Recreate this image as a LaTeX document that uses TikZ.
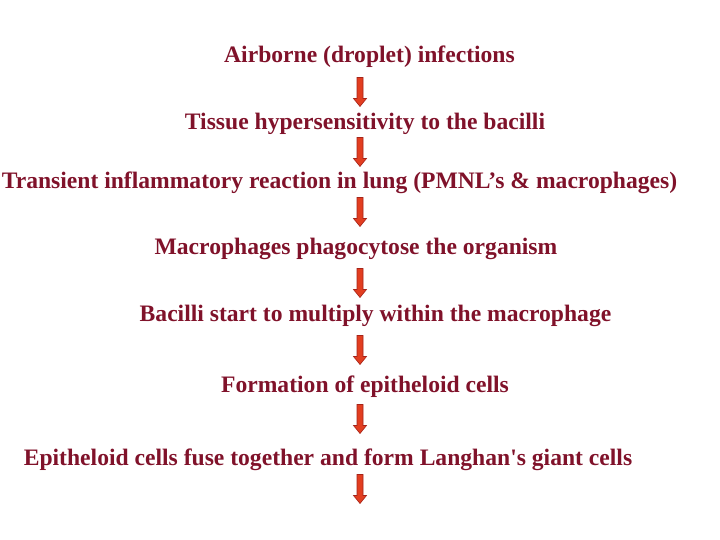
\documentclass[tikz,border=0pt]{standalone}
\usepackage{fontspec}
\setmainfont{Liberation Serif}
\definecolor{txtred}{RGB}{128,18,42}
\definecolor{arrfill}{RGB}{226,62,32}
\definecolor{arrline}{RGB}{165,35,25}
\tikzset{
  lbl/.style={text=txtred, font=\fontsize{23.6}{28}\selectfont\bfseries, inner sep=0pt, anchor=center},
  downarr/.pic={\filldraw[fill=arrfill, draw=arrline, line width=0.6pt]
     (-3,-14.5) -- (3,-14.5) -- (3,6.5) -- (6.5,6.5) -- (0,14.5) -- (-6.5,6.5) -- (-3,6.5) -- cycle;}
}
\begin{document}
\begin{tikzpicture}[x=1pt,y=-1pt]
\useasboundingbox (0,0) rectangle (720,540);
\node[lbl] (t1) at (369.5,57) {Airborne (droplet) infections};
\node[lbl] (t2) at (365,124) {Tissue hypersensitivity to the bacilli};
\node[lbl] (t3) at (339.5,183) {Transient inflammatory reaction in lung (PMNL’s \& macrophages)};
\node[lbl] (t4) at (356,249) {Macrophages phagocytose the organism};
\node[lbl] (t5) at (375.5,316) {Bacilli start to multiply within the macrophage};
\node[lbl] (t6) at (365,387) {Formation of epitheloid cells};
\node[lbl] (t7) at (328,460) {Epitheloid cells fuse together and form Langhan\textquotesingle s giant cells};
\pic at (360,92) {downarr};
\pic at (360,152) {downarr};
\pic at (360,212) {downarr};
\pic at (360,283) {downarr};
\pic at (360,350) {downarr};
\pic at (360,419) {downarr};
\pic at (360,489) {downarr};
\end{tikzpicture}
\end{document}
